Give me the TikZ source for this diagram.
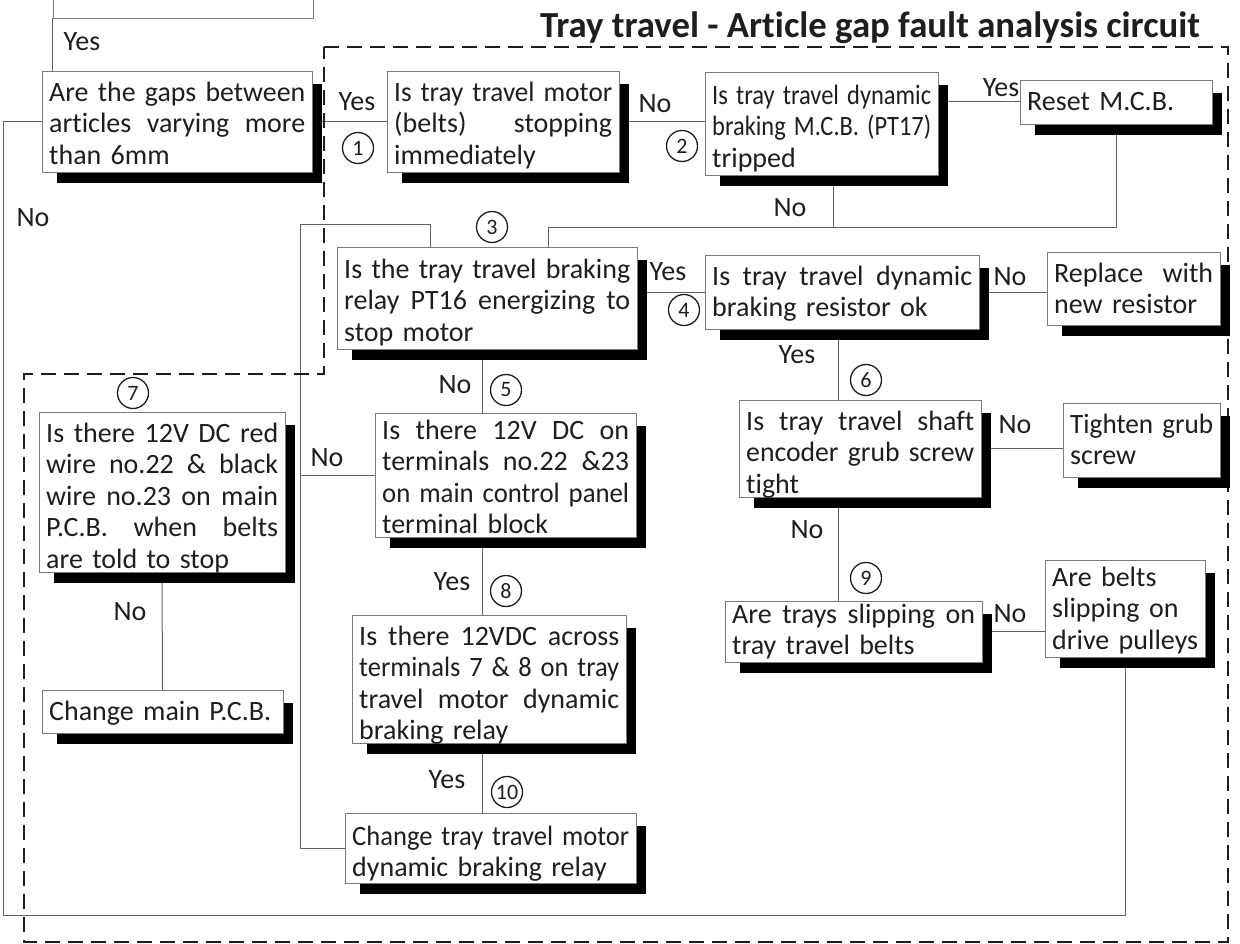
\documentclass[tikz,border=0pt]{standalone}
\usepackage{fontspec}
\setmainfont{Carlito}[Ligatures={NoCommon,NoContextual}]
\usepackage{graphicx}
\usetikzlibrary{calc}
\pgfdeclarelayer{bg}
\pgfsetlayers{bg,main}
\setlength\parindent{0pt}
\newsavebox\lnbox
\newcommand\fl[1]{\leavevmode\sbox\lnbox{#1}\ifdim\wd\lnbox>\hsize\resizebox{\hsize}{\height}{\usebox\lnbox}\else\hbox to\hsize{\spaceskip=\fontdimen2\font plus 1fill\relax\xspaceskip=\spaceskip #1}\fi}
\definecolor{ln}{HTML}{606060}
\definecolor{bd}{HTML}{7A7A7A}
\definecolor{tx}{HTML}{1E1E1E}
\newcommand\bodyf{\fontsize{28}{31.5}\selectfont}
\newcommand\numf{\fontsize{22}{22}\selectfont}
\tikzset{
 boxst/.style={draw=bd, line width=0.9pt, fill=white, inner sep=0pt, rectangle},
 txt/.style={inner sep=0pt, align=left, font=\bodyf, text=tx, execute at begin node=\strut},
 lab/.style={inner sep=0pt, font=\bodyf, text=tx},
 num/.style={circle, draw=tx, line width=1.3pt, minimum size=31pt, inner sep=0pt, font=\numf, text=tx},
 conn/.style={draw=ln, line width=1pt},
 dashb/.style={draw=tx, line width=1.8pt, dash pattern=on 15pt off 8pt},
 shad/.style={fill=black},
}
\newcommand\qbox[7]{%
 \fill[shad] (#2+15,#3+13) rectangle (#4+10,#5+11);
 \node[boxst, minimum width={#4-#2}, minimum height={#5-#3}] (#1) at ({(#2+#4)/2},{(#3+#5)/2}) {};
 \pgfmathsetmacro\tw{#4-#2-14}
 \node[txt, text width=\tw pt, anchor=north west] (#1t) at (#2+7,#3+8+#6) {#7};
}
\begin{document}
\begin{tikzpicture}[x=1pt,y=-1pt]
\useasboundingbox (0,0) rectangle (1240,944);

% title
\node[inner sep=0pt, text=tx] (ttl) at (870,28) {\resizebox{660pt}{!}{\fontsize{30}{30}\selectfont\bfseries Tray travel - Article gap fault analysis circuit}};

% dashed region
\draw[dashb] (324,47) -- (1228,47) -- (1228,942) -- (24,942) -- (24,374) -- (324,374) -- cycle;

% top partial box
\node[boxst, minimum width=260, minimum height=60] (T) at (183,-12) {};

\qbox{A}{42}{71}{312}{172}{0}{\fl{Are the gaps between}\\ \fl{articles varying more}\\ than 6mm}
\qbox{B1}{387}{71}{619}{172}{0}{\fl{Is tray travel motor}\\ \fl{(belts) stopping}\\ immediately}
\qbox{B2}{705}{72}{938}{175}{2}{\fl{Is tray travel dynamic}\\ \fl{braking M.C.B. (PT17)}\\ tripped}
\qbox{Rst}{1020}{80}{1212}{124}{0}{Reset M.C.B.}
\qbox{B3}{337}{247}{637}{349}{1}{\fl{Is the tray travel braking}\\ \fl{relay PT16 energizing to}\\ stop motor}
\qbox{B4}{705}{255}{979}{329}{0}{\fl{Is tray travel dynamic}\\ braking resistor ok}
\qbox{Rep}{1047}{252}{1220}{325}{0}{\fl{Replace with}\\ new resistor}
\qbox{B6}{739}{400}{981}{497}{0}{\fl{Is tray travel shaft}\\ \fl{encoder grub screw}\\ tight}
\qbox{Tig}{1063}{403}{1220}{477}{0}{\fl{Tighten grub}\\ screw}
\qbox{B9}{725}{601}{982}{662}{-8}{\fl{Are trays slipping on}\\ tray travel belts}
\qbox{Blt}{1045}{560}{1205}{657}{-4}{Are belts\\ slipping on\\ drive pulleys}
\qbox{B5}{375}{413}{636}{537}{-4}{\fl{Is there 12V DC on}\\ \fl{terminals no.22 \&23}\\ \fl{on main control panel}\\ terminal block}
\qbox{B7}{39}{412}{285}{572}{0}{\fl{Is there 12V DC red}\\ \fl{wire no.22 \& black}\\ \fl{wire no.23 on main}\\ \fl{P.C.B. when belts}\\ are told to stop}
\qbox{PCB}{42}{690}{283}{733}{0}{Change main P.C.B.}
\qbox{B8}{352}{615}{626}{743}{0}{\fl{Is there 12VDC across}\\ \fl{terminals 7 \& 8 on tray}\\ \fl{travel motor dynamic}\\ braking relay}
\qbox{B10}{345}{813}{636}{883}{2}{\fl{Change tray travel motor}\\ dynamic braking relay}

% labels
\node[lab] (l1) at (82,42) {Yes};
\node[lab] (l2) at (357,102) {Yes};
\node[lab] (l3) at (655,104) {No};
\node[lab] (l4) at (1001,88) {Yes};
\node[lab] (l5) at (790,208) {No};
\node[lab] (l6) at (668,272) {Yes};
\node[lab] (l7) at (1010,277) {No};
\node[lab] (l8) at (797,355) {Yes};
\node[lab] (l9) at (1015,425) {No};
\node[lab] (l10) at (807,530) {No};
\node[lab] (l11) at (1010,614) {No};
\node[lab] (l12) at (455,385) {No};
\node[lab] (l13) at (327,458) {No};
\node[lab] (l14) at (452,582) {Yes};
\node[lab] (l15) at (447,780) {Yes};
\node[lab] (l16) at (130,612) {No};
\node[lab] (l17) at (33,218) {No};

% numbers
\node[num] (c1) at (358,148) {1};
\node[num] (c2) at (682,146) {2};
\node[num] (c3) at (492,227) {3};
\node[num] (c4) at (684,310) {4};
\node[num] (c5) at (506,390) {5};
\node[num] (c6) at (866,380) {6};
\node[num] (c7) at (133,393) {7};
\node[num] (c8) at (506,591) {8};
\node[num] (c9) at (866,578) {9};
\node[num] (c10) at (507,792) {10};

% connectors
\coordinate (LL) at (3,915);
\coordinate (V) at (300,225);
\coordinate (K) at (430,225);
\coordinate (J3) at (548,228);
\coordinate (J2) at (833,228);
\coordinate (X6) at (838,0);
\coordinate (X5) at (482,0);
\begin{pgfonlayer}{bg}
\draw[conn] (T.south west) -- (T.south west |- A.north);
\draw[conn] (A.west) -| (LL) -| (Blt.south);
\draw[conn] (A.east) -- (B1.west);
\draw[conn] (B1.east) -- (B1.east -| B2.west);
\draw[conn] (Rst.west -| B2.east) -- (Rst.west);
\draw[conn] (Rst.south) |- (J3) -- (J3 |- B3.north);
\draw[conn] (J2 |- B2.south) -- (J2);
\draw[conn] (K |- B3.north) -- (K) -- (V) |- (B10.west);
\draw[conn] (B4.west -| B3.east) -- (B4.west);
\draw[conn] (B4.east) -- (B4.east -| Rep.west);
\draw[conn] (X6 |- B4.south) -- (X6 |- B6.north);
\draw[conn] (X6 |- B6.south) -- (X6 |- B9.north);
\draw[conn] (B6.east) -- (B6.east -| Tig.west);
\draw[conn] (B9.east) -- (B9.east -| Blt.west);
\draw[conn] (X5 |- B3.south) -- (X5 |- B5.north);
\draw[conn] (X5 |- B5.south) -- (X5 |- B8.north);
\draw[conn] (X5 |- B8.south) -- (X5 |- B10.north);
\draw[conn] (B5.west) -- (B5.west -| V);
\draw[conn] (B7.south) -- (PCB.north);
\end{pgfonlayer}
\end{tikzpicture}
\end{document}
